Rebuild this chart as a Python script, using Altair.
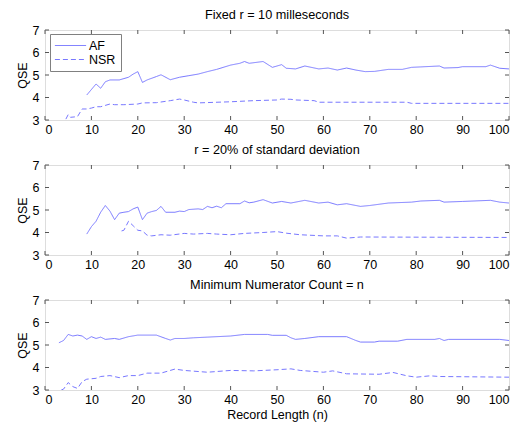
import altair as alt
import pandas as pd

BLUE = "#7878ff"
FONT = "Liberation Sans"

# Panel 1: Fixed r = 10 milleseconds
p1_af_x = [9, 11, 12, 13, 14, 16, 18, 19, 20, 21, 22, 24, 25, 27, 29, 31, 33, 35, 37, 40, 42, 43, 44, 47, 49, 51, 52, 54, 56, 59, 61, 63, 65, 67, 69, 71, 74, 77, 79, 81, 85, 86, 89, 90, 95, 96, 98, 100]
p1_af_y = [4.11, 4.6, 4.41, 4.7, 4.78, 4.78, 4.9, 5.04, 5.15, 4.67, 4.78, 4.93, 5.01, 4.79, 4.9, 4.97, 5.04, 5.15, 5.25, 5.44, 5.52, 5.6, 5.52, 5.6, 5.34, 5.46, 5.3, 5.27, 5.4, 5.27, 5.31, 5.22, 5.31, 5.22, 5.15, 5.16, 5.25, 5.25, 5.34, 5.36, 5.4, 5.31, 5.33, 5.37, 5.37, 5.44, 5.3, 5.27]
p1_nsr_x = [4.5, 5, 5.5, 7, 8, 9, 10, 11, 12, 14, 15, 17, 20, 21, 24, 27, 29, 30, 32, 33, 40, 45, 50, 51, 53, 54, 58, 59, 78, 79, 100]
p1_nsr_y = [3.04, 3.24, 3.12, 3.15, 3.49, 3.49, 3.53, 3.59, 3.59, 3.71, 3.68, 3.68, 3.71, 3.76, 3.77, 3.86, 3.93, 3.89, 3.79, 3.76, 3.81, 3.86, 3.89, 3.93, 3.92, 3.89, 3.86, 3.79, 3.79, 3.74, 3.74]

# Panel 2: r = 20% of standard deviation
p2_af_x = [9, 10, 11, 12, 13, 14, 15, 16, 17, 18, 19, 20, 21, 22, 23, 24, 25, 26, 28, 29, 30, 31, 33, 34, 35, 36, 37, 38, 39, 42, 43, 44, 45, 47, 49, 51, 53, 56, 59, 61, 63, 65, 68, 70, 74, 79, 81, 85, 86, 90, 96, 98, 100]
p2_af_y = [3.93, 4.26, 4.5, 4.9, 5.2, 4.95, 4.57, 4.86, 4.9, 4.93, 5.05, 5.13, 4.57, 4.86, 4.93, 4.98, 5.16, 4.9, 4.9, 4.95, 4.93, 5.02, 5.05, 5.02, 5.16, 5.1, 5.17, 5.1, 5.28, 5.28, 5.4, 5.32, 5.35, 5.46, 5.31, 5.38, 5.31, 5.43, 5.31, 5.35, 5.23, 5.28, 5.16, 5.2, 5.31, 5.35, 5.4, 5.43, 5.35, 5.38, 5.43, 5.35, 5.31]
p2_nsr_x = [16.5, 17, 18, 19, 20, 21, 22, 23, 25, 27, 30, 32, 35, 37, 40, 43, 47, 50, 52, 55, 60, 63, 65, 68, 100]
p2_nsr_y = [4.07, 4.1, 4.5, 4.3, 4.1, 4.07, 3.88, 3.85, 3.9, 3.88, 3.96, 3.93, 3.96, 3.93, 3.9, 3.96, 4.0, 4.04, 3.97, 3.9, 3.85, 3.85, 3.75, 3.8, 3.78]

# Panel 3: Minimum Numerator Count = n
p3_af_x = [3, 4, 5, 6, 7, 8, 9, 10, 11, 12, 13, 15, 16, 18, 20, 24, 26, 27, 28, 30, 32, 35, 40, 43, 48, 49, 52, 53, 54, 56, 59, 65, 67, 68, 71, 72, 76, 78, 84, 85, 86, 87, 98, 100]
p3_af_y = [5.1, 5.2, 5.47, 5.4, 5.44, 5.4, 5.25, 5.37, 5.29, 5.35, 5.25, 5.29, 5.25, 5.37, 5.44, 5.44, 5.29, 5.22, 5.29, 5.29, 5.32, 5.35, 5.4, 5.47, 5.47, 5.43, 5.43, 5.32, 5.25, 5.29, 5.37, 5.37, 5.2, 5.13, 5.13, 5.17, 5.17, 5.25, 5.25, 5.29, 5.2, 5.25, 5.25, 5.2]
p3_nsr_x = [3.5, 4, 5, 6, 7, 8, 9, 11, 12, 14, 16, 18, 20, 22, 25, 28, 30, 35, 40, 45, 50, 53, 55, 60, 62, 65, 72, 75, 78, 80, 83, 85, 100]
p3_nsr_y = [3.0, 3.04, 3.33, 3.15, 3.07, 3.37, 3.48, 3.52, 3.6, 3.64, 3.55, 3.64, 3.64, 3.75, 3.75, 3.93, 3.87, 3.79, 3.87, 3.85, 3.9, 3.94, 3.87, 3.79, 3.85, 3.72, 3.7, 3.78, 3.63, 3.57, 3.63, 3.6, 3.57]

titles = ["Fixed r = 10 milleseconds", "r = 20% of standard deviation", "Minimum Numerator Count = n"]
series = ["AF", "NSR"]
x_ticks = list(range(0, 101, 10))
y_ticks = [3, 4, 5, 6, 7]

W, H = 464, 90
TL = 4  # inner tick length
XS = alt.Scale(domain=[0, 100], nice=False, zero=False)
YS = alt.Scale(domain=[3, 7], nice=False, zero=False)
LBL = 12.5
TTL = 12.5


def panel(title, afx, afy, nsx, nsy, legend, xtitle):
    df = pd.DataFrame(
        {"n": afx + nsx, "qse": afy + nsy,
         "series": ["AF"] * len(afx) + ["NSR"] * len(nsx)}
    )
    if legend:
        leg = alt.Legend(
            title=None, orient="none", legendX=5, legendY=4,
            strokeColor="#808080", fillColor="white", padding=5,
            symbolType="M-2.6,0H2.6", symbolSize=144, symbolStrokeWidth=1,
            symbolOffset=9,
            labelFont=FONT, labelFontSize=12.5, labelColor="black",
            rowPadding=1, labelOffset=12,
        )
    else:
        leg = None
    ax_common = dict(tickSize=0, domain=False, grid=False, labelOverlap=False,
                     labelFont=FONT, labelFontSize=LBL, labelColor="black",
                     titleFont=FONT, titleFontSize=TTL, titleFontWeight="normal",
                     titleColor="black")
    xax = alt.Axis(values=x_ticks, title=xtitle if xtitle else None,
                   labelPadding=3, titlePadding=3, **ax_common)
    yax = alt.Axis(values=y_ticks, title="QSE", labelPadding=6, titlePadding=3, **ax_common)
    X = alt.X("n:Q", scale=XS, axis=xax)
    Y = alt.Y("qse:Q", scale=YS, axis=yax)
    lines = alt.Chart(df).mark_line(strokeWidth=1, clip=True).encode(
        x=X, y=Y,
        color=alt.Color("series:N", scale=alt.Scale(domain=series, range=[BLUE, BLUE]), legend=leg),
        strokeDash=alt.StrokeDash("series:N", scale=alt.Scale(domain=series, range=[[1, 0], [5, 3]]), legend=leg),
        order=alt.Order("n:Q"),
    )
    xt = pd.DataFrame({"n": x_ticks})
    yt = pd.DataFrame({"qse": y_ticks})
    tick_style = dict(color="#555555", strokeWidth=1)
    xb = alt.Chart(xt).mark_rule(**tick_style).encode(
        x=X, y=alt.value(H - TL), y2=alt.value(H))
    xtp = alt.Chart(xt).mark_rule(**tick_style).encode(
        x=X, y=alt.value(0), y2=alt.value(TL))
    yl = alt.Chart(yt).mark_rule(**tick_style).encode(
        y=Y, x=alt.value(0), x2=alt.value(TL))
    yr = alt.Chart(yt).mark_rule(**tick_style).encode(
        y=Y, x=alt.value(W - TL), x2=alt.value(W))
    return alt.layer(lines, xb, xtp, yl, yr).properties(
        width=W, height=H,
        title=alt.TitleParams(title, font=FONT, fontSize=12.7, fontWeight="normal", color="black", offset=2),
    )


charts = [
    panel(titles[0], p1_af_x, p1_af_y, p1_nsr_x, p1_nsr_y, True, None),
    panel(titles[1], p2_af_x, p2_af_y, p2_nsr_x, p2_nsr_y, False, None),
    panel(titles[2], p3_af_x, p3_af_y, p3_nsr_x, p3_nsr_y, False, "Record Length (n)"),
]

chart = alt.vconcat(*charts, spacing=7).resolve_scale(
    color="independent", strokeDash="independent"
).resolve_legend(color="independent", strokeDash="independent").configure_view(
    stroke="#808080", strokeWidth=1
).configure(padding={"left": 7, "top": 0, "right": 2, "bottom": 0}, background="white")

chart.save("out.html", embed_options={"renderer": "svg", "actions": False})
